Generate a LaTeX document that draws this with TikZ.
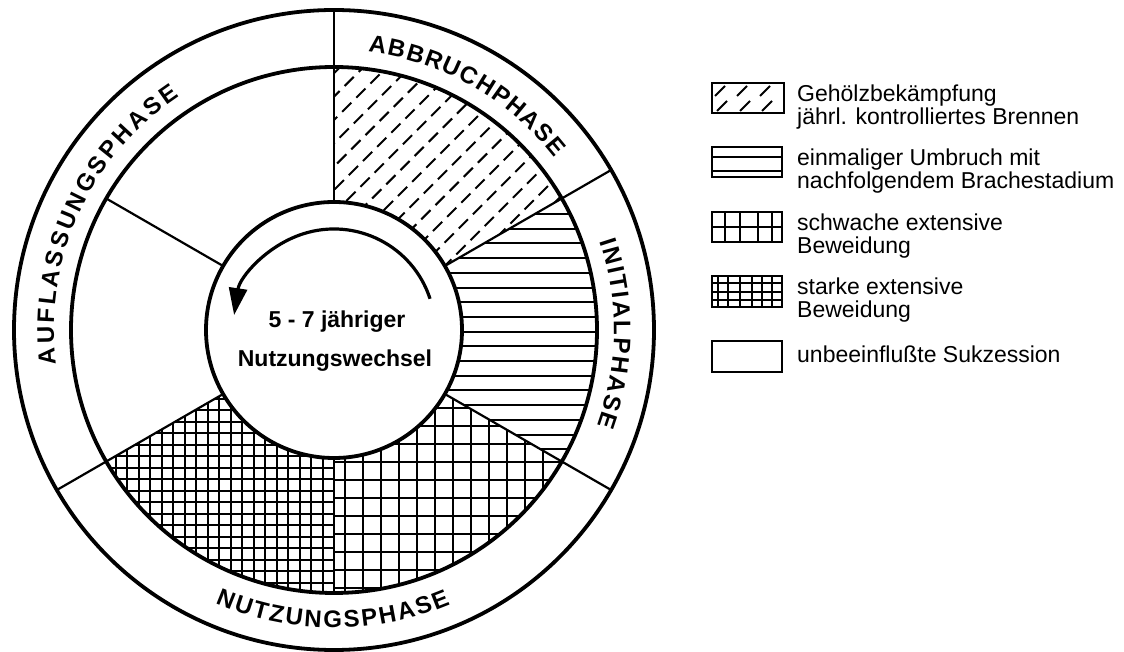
\documentclass[tikz,border=0pt]{standalone}
\usepackage{fontspec}
\setmainfont{Liberation Sans}
\usetikzlibrary{decorations.text,arrows.meta}
\newcommand\ringfnt{\fontsize{24pt}{24pt}\selectfont\bfseries}
\newcommand\legfnt{\fontsize{23pt}{23pt}\selectfont}
\newcommand\midfnt{\fontsize{23pt}{23pt}\selectfont\bfseries}
\begin{document}
\begin{tikzpicture}[x=1pt,y=1pt,
  thickline/.style={line width=3.8pt},
  divider/.style={line width=2.2pt},
  hatch/.style={line width=2pt},
  legbox/.style={draw,line width=2.8pt},
  legtext/.style={anchor=base west,inner sep=0pt,font=\legfnt},
  ringtext/.style={decorate,decoration={text along path,text align=fit to path,text={#1}}},
]
\useasboundingbox (-334,-322) rectangle (790,330);

% --- hatching of the sectors ---
% Abbruchphase: dashed diagonals
\begin{scope}
  \clip (0,0) -- (30:263) arc[start angle=30,end angle=90,radius=263] -- cycle;
  \begin{scope}[rotate=45]
    \foreach \k in {-17,...,17}
      \draw[hatch,dash pattern=on 13pt off 7pt] (-300,{(\k)*16.5}) -- (300,{(\k)*16.5});
  \end{scope}
\end{scope}
% Initialphase: horizontal lines
\begin{scope}
  \clip (0,0) -- (-30:263) arc[start angle=-30,end angle=30,radius=263] -- cycle;
  \foreach \k in {-10,...,10}
    \draw[hatch] (0,{-1.7+(\k)*14.7}) -- (270,{-1.7+(\k)*14.7});
\end{scope}
% schwache Beweidung: wide grid
\begin{scope}
  \clip (0,0) -- (-90:263) arc[start angle=-90,end angle=-30,radius=263] -- cycle;
  \foreach \k in {0,...,15}
    \draw[hatch] ({11+(\k)*18},0) -- ({11+(\k)*18},-270);
  \foreach \k in {-8,...,9}
    \draw[hatch] (0,{-150+(\k)*18}) -- (270,{-150+(\k)*18});
\end{scope}
% starke Beweidung: dense grid
\begin{scope}
  \clip (0,0) -- (-150:263) arc[start angle=-150,end angle=-90,radius=263] -- cycle;
  \foreach \k in {0,...,23}
    \draw[hatch] ({-11-(\k)*11.5},0) -- ({-11-(\k)*11.5},-270);
  \foreach \k in {-13,...,13}
    \draw[hatch] (0,{-138+(\k)*11.5}) -- (-270,{-138+(\k)*11.5});
\end{scope}

% --- circles and dividers ---
\draw[thickline] (0,0) circle[radius=320];
\draw[thickline] (0,0) circle[radius=263];
\foreach \a in {90,30,-30,210} \draw[divider] (\a:128) -- (\a:320);
\foreach \a in {150,270} \draw[divider] (\a:128) -- (\a:263);
\node[circle,draw,line width=3.8pt,fill=white,minimum size=256pt,inner sep=0pt] (hub) at (0,0) {};

% --- rotation arrow ---
\draw[line width=3.2pt,-{Triangle[length=27pt,width=18pt]}] (18:101) arc[start angle=18,end angle=171.5,radius=101];

% --- centre text ---
\node[anchor=base,inner sep=0pt,font=\midfnt] (t1) at (3,2) {5 - 7 jähriger};
\node[anchor=base,inner sep=0pt,font=\midfnt] (t2) at (1,-37) {Nutzungswechsel};

% --- ring labels ---
\path[ringtext={|\ringfnt|ABBRUCHPHASE}] (83:280) arc[start angle=83,end angle=38,radius=280];
\path[ringtext={|\ringfnt|INITIALPHASE}] (18.5:280) arc[start angle=18.5,end angle=-20,radius=280];
\path[ringtext={|\ringfnt|AUFLASSUNGSPHASE}] (187:280) arc[start angle=187,end angle=123.5,radius=280];
\path[ringtext={|\ringfnt|NUTZUNGSPHASE}] (246.5:298) arc[start angle=246.5,end angle=293,radius=298];

% --- legend ---
\draw[legbox] (378,217) rectangle (450,247);
\foreach \x/\y in {386/239,408/239,431/239,388/224,411/224,433/224}
  \draw[hatch] (\x-5,\y-5) -- (\x+5,\y+5);
\draw[legbox] (378,153) rectangle (448,183);
\draw[hatch] (378,172.5) -- (448,172.5);
\draw[hatch] (378,158.5) -- (448,158.5);
\draw[legbox] (378,88) rectangle (448,118);
\foreach \x in {391,406,424,438} \draw[hatch] (\x,88) -- (\x,118);
\draw[hatch] (378,103) -- (448,103);
\draw[legbox] (378,23) rectangle (448,54);
\foreach \x in {384,394,406,418,428,438} \draw[hatch] (\x,23) -- (\x,54);
\foreach \y in {47,38,30} \draw[hatch] (378,\y) -- (448,\y);
\draw[legbox] (378,-42) rectangle (448,-11);

\node[legtext] (l1a) at (463,228) {Gehölzbekämpfung};
\node[legtext] (l1b) at (463,205) {jährl. kontrolliertes Brennen};
\node[legtext] (l2a) at (463,164) {einmaliger Umbruch mit};
\node[legtext] (l2b) at (463,141) {nachfolgendem Brachestadium};
\node[legtext] (l3a) at (463,99) {schwache extensive};
\node[legtext] (l3b) at (463,76) {Beweidung};
\node[legtext] (l4a) at (463,35) {starke extensive};
\node[legtext] (l4b) at (463,12) {Beweidung};
\node[legtext] (l5) at (463,-33) {unbeeinflußte Sukzession};
\end{tikzpicture}
\end{document}
